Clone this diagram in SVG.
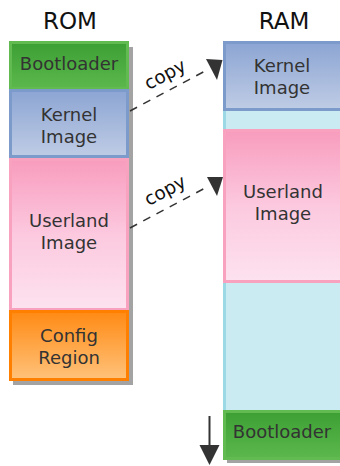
<svg xmlns="http://www.w3.org/2000/svg" width="340" height="466" viewBox="0 0 340 466">
  <defs>
    <linearGradient id="gGreen" x1="0" y1="0" x2="0" y2="1">
      <stop offset="0" stop-color="#3c9f34"/>
      <stop offset="1" stop-color="#5cb84c"/>
    </linearGradient>
    <linearGradient id="gBlue" x1="0" y1="0" x2="0" y2="1">
      <stop offset="0" stop-color="#8ca5d3"/>
      <stop offset="1" stop-color="#bfcce5"/>
    </linearGradient>
    <linearGradient id="gPink" x1="0" y1="0" x2="0" y2="1">
      <stop offset="0" stop-color="#f89cbd"/>
      <stop offset="0.5" stop-color="#fcc9df"/>
      <stop offset="1" stop-color="#fde2ef"/>
    </linearGradient>
    <linearGradient id="gOrange" x1="0" y1="0" x2="0" y2="1">
      <stop offset="0" stop-color="#ff8a14"/>
      <stop offset="1" stop-color="#ffc27a"/>
    </linearGradient>
  </defs>
  <style>
    .title { font-family: "DejaVu Sans", Verdana, sans-serif; font-size: 23px; fill: #111; text-anchor: middle; }
    .lbl { font-family: "DejaVu Sans", Verdana, sans-serif; font-size: 18px; fill: #333; text-anchor: middle; }
    .copy { font-family: "DejaVu Sans", Verdana, sans-serif; font-size: 18.5px; fill: #111; text-anchor: middle; }
    .shadow { fill: #a3a3a3; }
    .green { fill: url(#gGreen); stroke: #62bb50; stroke-width: 3; }
    .blue { fill: url(#gBlue); stroke: #7c9bcb; stroke-width: 3; }
    .pink { fill: url(#gPink); stroke: #f9a2c0; stroke-width: 3; }
    .orange { fill: url(#gOrange); stroke: #ff8000; stroke-width: 3; }
    .dash { fill: none; stroke: #333; stroke-width: 1.5; stroke-dasharray: 8 7; }
    .head { fill: #333; }
  </style>

  <text class="title" x="70" y="29">ROM</text>
  <text class="title" x="284" y="29">RAM</text>

  <!-- ROM column -->
  <g id="rom">
    <rect class="shadow" x="13" y="47" width="120" height="338"/>
    <g id="rom-bootloader">
      <rect class="green" x="10.5" y="42.5" width="117" height="46"/>
      <text class="lbl" x="69" y="70">Bootloader</text>
    </g>
    <g id="rom-kernel">
      <rect class="blue" x="10.5" y="90.5" width="117" height="66"/>
      <text class="lbl" x="69" y="121">Kernel</text>
      <text class="lbl" x="69" y="143">Image</text>
    </g>
    <g id="rom-userland">
      <rect class="pink" x="10.5" y="159.5" width="117" height="150"/>
      <text class="lbl" x="69" y="227">Userland</text>
      <text class="lbl" x="69" y="249">Image</text>
    </g>
    <g id="rom-config">
      <rect class="orange" x="10.5" y="311.5" width="117" height="68"/>
      <text class="lbl" x="69" y="342">Config</text>
      <text class="lbl" x="69" y="364">Region</text>
    </g>
  </g>

  <!-- RAM column -->
  <g id="ram">
    <rect class="shadow" x="227" y="414" width="120" height="49"/>
    <g id="ram-free">
      <rect x="223" y="110" width="120" height="301" fill="#cbebf2"/>
      <rect x="223" y="110" width="3" height="301" fill="#9bd9e4"/>
    </g>
    <g id="ram-kernel">
      <rect class="blue" x="224.5" y="42.5" width="117" height="67"/>
      <text class="lbl" x="282" y="72">Kernel</text>
      <text class="lbl" x="282" y="94">Image</text>
    </g>
    <g id="ram-userland">
      <rect class="pink" x="224.5" y="130.5" width="117" height="151"/>
      <text class="lbl" x="283" y="198">Userland</text>
      <text class="lbl" x="283" y="220">Image</text>
    </g>
    <g id="ram-bootloader">
      <rect class="green" x="224.5" y="411.5" width="117" height="47"/>
      <text class="lbl" x="282" y="438">Bootloader</text>
    </g>
  </g>

  <!-- connectors -->
  <g id="connectors">
    <line class="dash" x1="130" y1="111" x2="207" y2="70"/>
    <polygon class="head" points="206,59 222.5,60 217,80"/>
    <text class="copy" transform="translate(168,80) rotate(-28)">copy</text>

    <line class="dash" x1="130" y1="228" x2="207" y2="187"/>
    <polygon class="head" points="207,177 223,177 217,196"/>
    <text class="copy" transform="translate(168,196) rotate(-28)">copy</text>

    <line x1="209.5" y1="416" x2="209.5" y2="447" stroke="#333" stroke-width="2"/>
    <polygon class="head" points="199.5,445 219.5,445 209.5,465"/>
  </g>
</svg>
